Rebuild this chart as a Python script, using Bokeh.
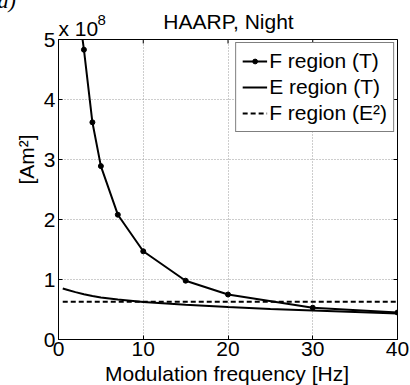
import numpy as np
from bokeh.plotting import figure
from bokeh.models import Range1d, FixedTicker, Legend, LegendItem
from bokeh.core.properties import value
from bokeh.embed import file_html
from bokeh.resources import INLINE

# ---- data ----
freq_f_T = [2, 3, 4, 5, 7, 10, 15, 20, 30, 40]
f_region_T = [5.9e8, 4.83e8, 3.62e8, 2.89e8, 2.08e8, 1.47e8, 0.98e8, 0.75e8, 0.53e8, 0.45e8]

freq_e_T = [0.5, 1, 2, 3, 4, 5, 7, 10, 15, 20, 25, 30, 35, 40]
e_region_T = [0.85e8, 0.83e8, 0.79e8, 0.755e8, 0.725e8, 0.70e8, 0.665e8, 0.625e8,
              0.58e8, 0.54e8, 0.51e8, 0.485e8, 0.46e8, 0.435e8]

freq_f_E2 = [0.5, 40]
f_region_E2 = [0.63e8, 0.63e8]

x_ticks = [0, 10, 20, 30, 40]
y_ticks = [0.0, 1e8, 2e8, 3e8, 4e8, 5e8]
y_tick_labels = ["0", "1", "2", "3", "4", "5"]
X_MIN, X_MAX = 0, 40
Y_MIN, Y_MAX = 0, 5e8

FONT = "Liberation Sans"
FS = "21px"

# frame geometry (canvas pixels)
FL, FR, FT, FB = 58, 397, 39, 339

p = figure(width=410, height=385, output_backend="svg", toolbar_location=None,
           x_range=Range1d(X_MIN, X_MAX), y_range=Range1d(Y_MIN, Y_MAX),
           min_border_left=FL, min_border_right=410 - FR,
           min_border_top=FT, min_border_bottom=385 - FB)
p.background_fill_color = "white"
p.border_fill_color = "white"
p.outline_line_color = "black"
p.outline_line_width = 1

p.xaxis.ticker = FixedTicker(ticks=x_ticks)
p.yaxis.ticker = FixedTicker(ticks=y_ticks)
p.yaxis.major_label_overrides = dict(zip(y_ticks, y_tick_labels))
for ax in (p.xaxis, p.yaxis):
    ax.major_tick_in = 4
    ax.major_tick_out = 0
    ax.minor_tick_in = 0
    ax.minor_tick_out = 0
    ax.axis_line_color = "black"
    ax.major_tick_line_color = "black"
    ax.major_label_text_font = FONT
    ax.major_label_text_font_size = FS
    ax.major_label_text_color = "black"
p.xaxis.major_label_standoff = 2
p.yaxis.major_label_standoff = 3

for g in (p.xgrid, p.ygrid):
    g.grid_line_color = "#9a9a9a"
    g.grid_line_dash = "1 2"
    g.grid_line_width = 1

# inward ticks on the top and right edges of the box (half of each dash is clipped)
p.scatter(x=x_ticks, y=[Y_MAX] * len(x_ticks), marker="dash", size=8, angle=np.pi / 2,
          line_color="black", line_width=1)
p.scatter(x=[X_MAX] * len(y_ticks), y=y_ticks, marker="dash", size=8,
          line_color="black", line_width=1)

# ---- glyphs ----
rF = p.line(freq_f_T, f_region_T, line_color="black", line_width=2)
sF = p.scatter(freq_f_T, f_region_T, size=5, color="black")
rE = p.line(freq_e_T, e_region_T, line_color="black", line_width=2)
rD = p.line(freq_f_E2, f_region_E2, line_color="black", line_width=2, line_dash="5 3")

legend = Legend(items=[
    LegendItem(label="F region (T)", renderers=[rF, sF]),
    LegendItem(label="E region (T)", renderers=[rE]),
    LegendItem(label="F region (E²)", renderers=[rD]),
], location="top_right", margin=3, padding=6, spacing=2,
    glyph_width=25, glyph_height=12, label_height=24, label_standoff=2,
    label_text_font=FONT, label_text_font_size=FS, label_text_color="black",
    border_line_color="black", border_line_width=1, background_fill_color="white",
    background_fill_alpha=1.0)
p.add_layout(legend)

# ---- texts (overlay level so they are not clipped to the frame) ----
def dx(px):
    return X_MIN + (px - FL) / (FR - FL) * (X_MAX - X_MIN)

def dy(py):
    return Y_MIN + (FB - py) / (FB - FT) * (Y_MAX - Y_MIN)

MID = 0.3465  # distance baseline -> middle of the em box, in font sizes

def txt(px, py, text, size=21, align="left", rotated=False, font=FONT, style="normal"):
    # (px, py) is the baseline anchor; convert to the middle of the text box
    shift = MID * size
    if rotated:
        ax_, ay_ = px - shift, py
        angle = np.pi / 2
    else:
        ax_, ay_ = px, py - shift
        angle = 0.0
    p.text(x=[dx(ax_)], y=[dy(ay_)], text=[text], text_font=value(font),
           text_font_size=value(f"{size}px"), text_align=align, text_baseline="middle",
           angle=angle, text_color="black", text_font_style=style, level="overlay")

txt(228, 28, "HAARP, Night", align="center")
txt(226.5, 380, "Modulation frequency [Hz]", align="center")
txt(33, 159, "[Am²]", align="center", rotated=True)
txt(58, 35, "x 10")
txt(97, 25, "8", size=15)
txt(-3, 8, "a)", size=22, font="Liberation Serif", style="italic")

open("out.html", "w").write(file_html(p, INLINE))
